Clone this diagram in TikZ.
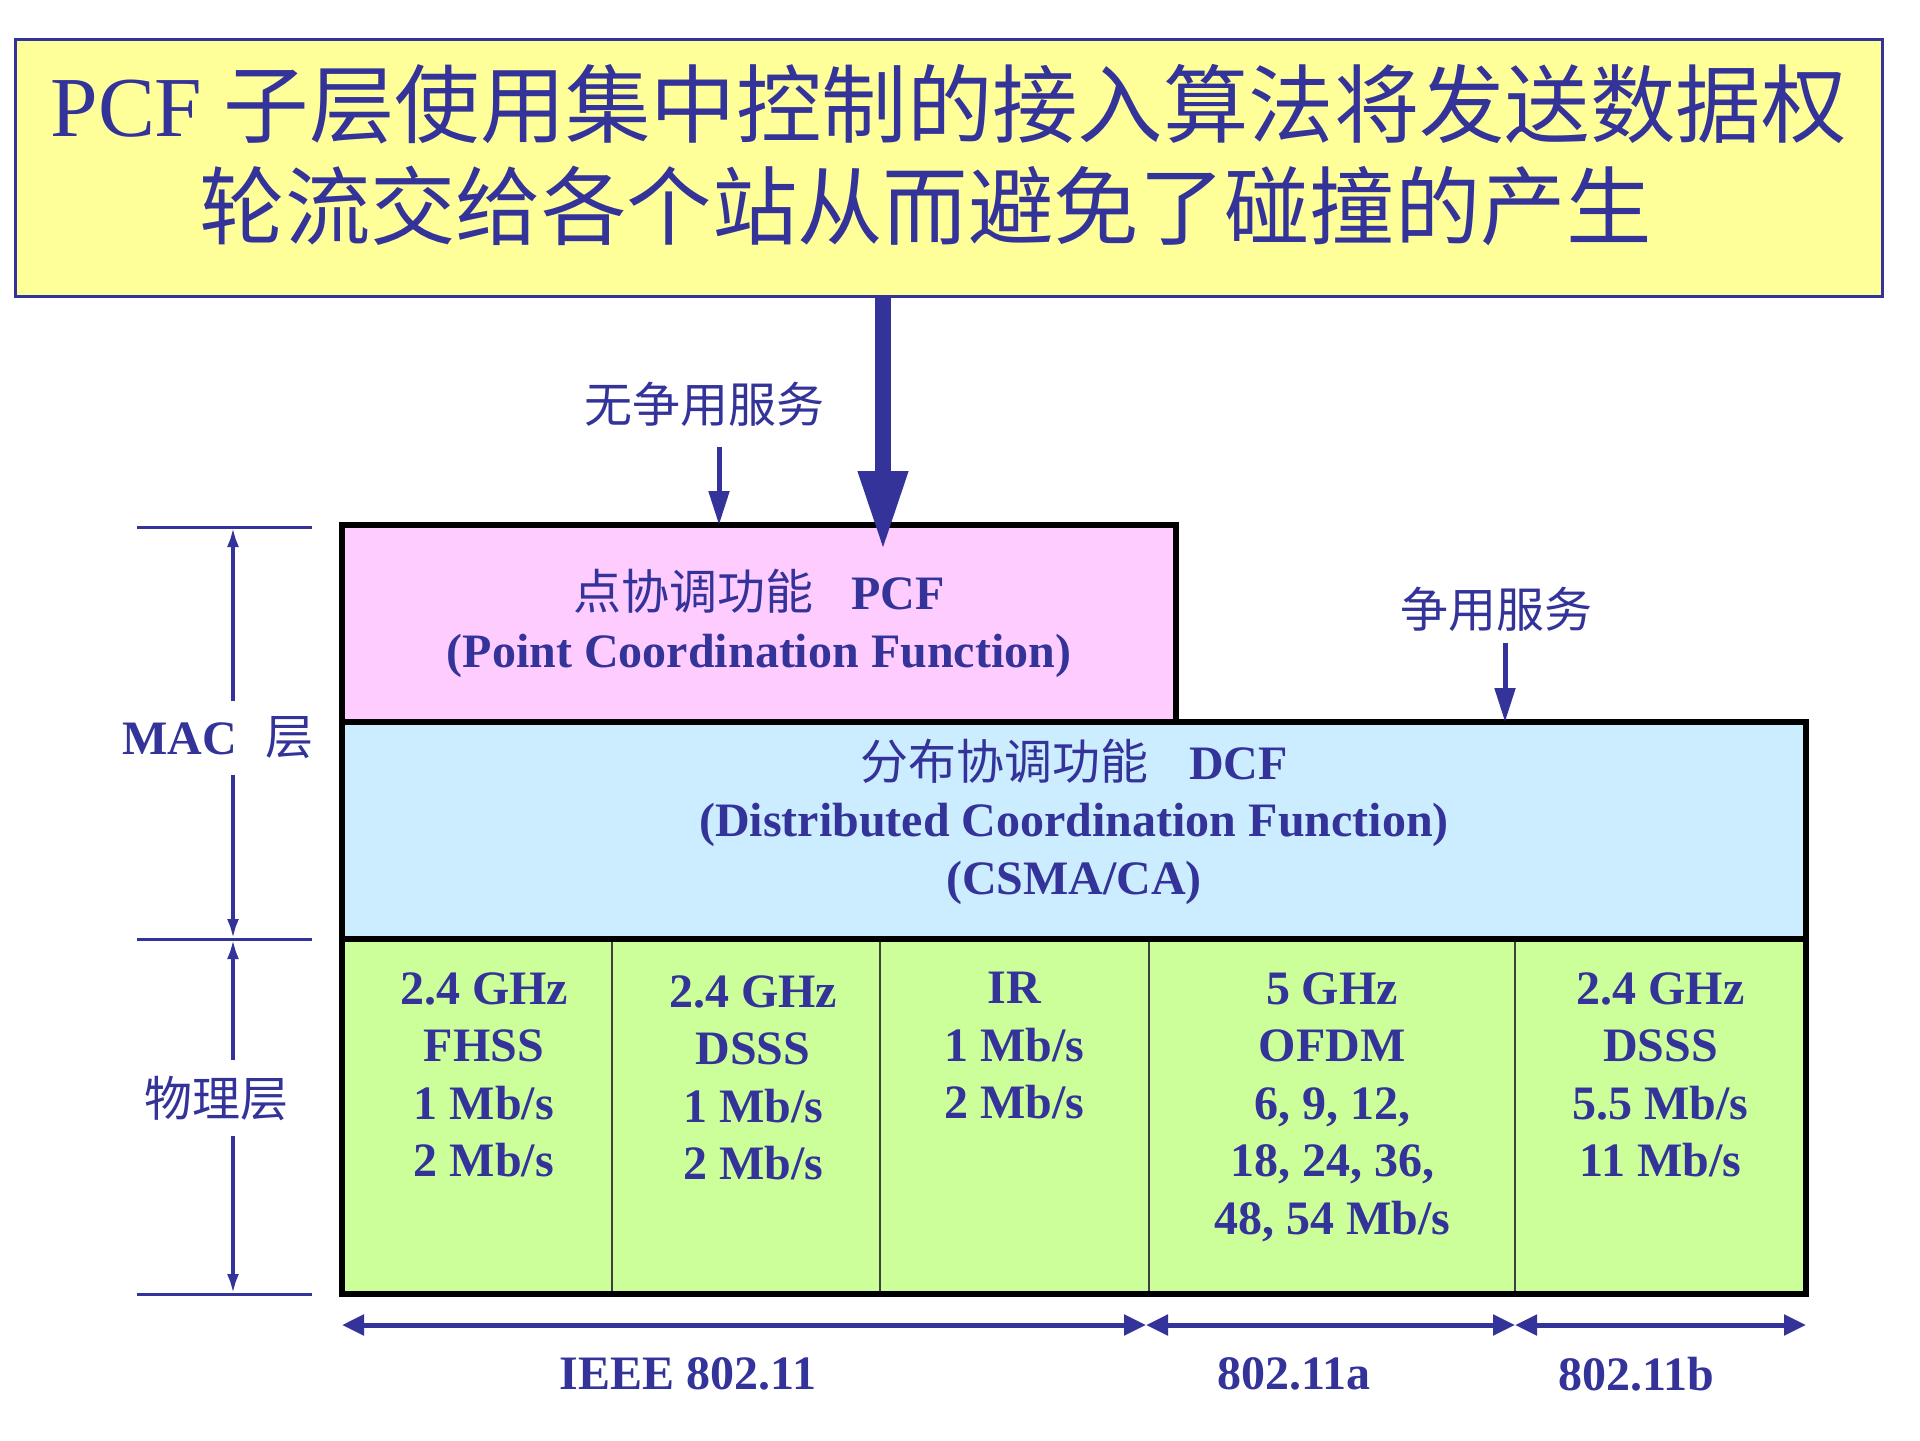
\documentclass[tikz,border=0pt]{standalone}
\usepackage{fontspec}
\setmainfont{Liberation Serif}
\newfontfamily\cjk{Noto Sans CJK SC}
\newcommand\zhtxt[1]{{\cjk\mdseries #1}}
\usepackage{tikz}
\usetikzlibrary{arrows.meta,positioning,calc}
\definecolor{ink}{RGB}{51,51,153}
\definecolor{titlefill}{RGB}{255,255,153}
\definecolor{pcffill}{RGB}{255,204,255}
\definecolor{dcffill}{RGB}{204,236,255}
\definecolor{phyfill}{RGB}{204,255,153}

\begin{document}
\begin{tikzpicture}[
  x=0.5pt, y=-0.5pt,
  font=\fontsize{24}{28.75}\selectfont\bfseries,
  every node/.style={text=ink},
  headbox/.style  = {draw=ink, fill=titlefill, line width=1.5pt, align=center,
                     minimum width=933.5pt, minimum height=128.5pt, inner ysep=0pt,
                     text height=95pt, text depth=24.4pt,
                     font=\fontsize{42.7}{51}\selectfont\mdseries},
  layerbox/.style = {draw=black, line width=3pt, outer sep=0pt, align=center},
  pcfbox/.style   = {layerbox, fill=pcffill, minimum width=417pt, minimum height=98.5pt},
  dcfbox/.style   = {layerbox, fill=dcffill, minimum width=732pt, minimum height=108.5pt,
                     inner ysep=3pt, text height=82pt, text depth=18.5pt},
  cellbox/.style  = {draw=black!75, line width=0.75pt, fill=phyfill, outer sep=0pt,
                     inner sep=0pt, minimum height=177.5pt},
  celltxt/.style  = {align=center, inner sep=4pt, anchor=north},
  ar/.style       = {-{Triangle[length=17pt,width=10pt]}, line width=2.5pt, draw=ink},
  bigar/.style    = {-{Triangle[length=40pt,width=23pt]}, line width=8pt, draw=ink},
  stdspan/.style  = {{Triangle[length=11pt,width=10pt]}-{Triangle[length=11pt,width=10pt]},
                     line width=2.5pt, draw=ink},
  dimar/.style    = {{Latex[length=10pt,width=6pt]}-{Latex[length=10pt,width=6pt]},
                     line width=2pt, draw=ink},
  dimtick/.style  = {line width=1.5pt, draw=ink},
  dimlbl/.style   = {fill=white, inner xsep=2pt, inner ysep=8pt},
]
\useasboundingbox (0,0) rectangle (1920,1440);

% ----------------------------- title --------------------------------------
\node[headbox] (title) at (948.5,167.5)
  {PCF \zhtxt{子层使用集中控制的接入算法将发送数据权}\\
   \zhtxt{轮流交给各个站从而避免了碰撞的产生}\hspace*{23pt}};

% ----------------------------- MAC sublayers ------------------------------
\node[dcfbox] (dcf) at (1074,830.5)
  {\zhtxt{分布协调功能}\hspace{0.85em}DCF\\
   (Distributed Coordination Function)\\
   (CSMA/CA)};
\node[pcfbox, above right=0pt of dcf.north west] (pcf)
  {\zhtxt{点协调功能}\hspace{0.8em}PCF\\
   (Point Coordination Function)};

% ----------------------------- physical layer -----------------------------
\node[cellbox, minimum width=135pt, below right=0pt of dcf.south west] (c1) {};
\node[cellbox, minimum width=134pt, right=0pt of c1] (c2) {};
\node[cellbox, minimum width=134.5pt, right=0pt of c2] (c3) {};
\node[cellbox, minimum width=183pt, right=0pt of c3] (c4) {};
\node[cellbox, minimum width=145.5pt, right=0pt of c4] (c5) {};
\draw[black, line width=3pt] (c1.north west) rectangle (c5.south east);

\node[celltxt, below=12.5pt of c1.north, xshift=3.5pt] (t1) {2.4 GHz\\ FHSS\\ 1 Mb/s\\ 2 Mb/s};
\node[celltxt, below=14pt of c2.north, xshift=3.5pt] (t2) {2.4 GHz\\ DSSS\\ 1 Mb/s\\ 2 Mb/s};
\node[celltxt, below=12.5pt of c3.north] (t3) {IR\\ 1 Mb/s\\ 2 Mb/s};
\node[celltxt, below=12.5pt of c4.north] (t4) {5 GHz\\ OFDM\\ 6, 9, 12,\\ 18, 24, 36,\\ 48, 54 Mb/s};
\node[celltxt, below=12.5pt of c5.north] (t5) {2.4 GHz\\ DSSS\\ 5.5 Mb/s\\ 11 Mb/s};

% ----------------------------- services -----------------------------------
\coordinate (tip) at (883,551);
\draw[bigar] (title.south -| tip) -- (tip);

\node (nocont) at (704,404) {\zhtxt{无争用服务}};
\coordinate (p1) at (719,447);
\draw[ar] (p1) -- (p1 |- pcf.north);

\node (cont) at (1496,609) {\zhtxt{争用服务}};
\coordinate (p2) at (1505,643);
\draw[ar] (p2) -- (p2 |- dcf.north);

% ----------------------------- layer extents ------------------------------
\coordinate (l0) at (137,527);  \coordinate (r0) at (312,527);
\coordinate (l1) at (137,939);  \coordinate (r1) at (312,939);
\coordinate (l2) at (137,1294); \coordinate (r2) at (312,1294);
\draw[dimtick] (l0) -- (r0);
\draw[dimtick] (l1) -- (r1);
\draw[dimtick] (l2) -- (r2);
\coordinate (m0) at (233,527);
\coordinate (m1) at (233,939);
\coordinate (m2) at (233,1294);
\draw[dimar] (m0) -- node[dimlbl, pos=0.512, xshift=-7.5pt] (mac) {MAC\hspace{0.6em}\zhtxt{层}} (m1);
\draw[dimar] (m1) -- node[dimlbl, pos=0.448, xshift=-8.5pt] (phy) {\zhtxt{物理层}} (m2);

% ----------------------------- standards ----------------------------------
\coordinate (b0) at ($(c1.south west)+(0,31)$);
\coordinate (b1) at ($(c4.south west)+(-3,31)$);
\coordinate (b2) at ($(c5.south west)+(0,31)$);
\coordinate (b3) at ($(c5.south east)+(0,31)$);
\draw[stdspan] (b0) -- (b1);
\draw[stdspan] (b1) -- (b2);
\draw[stdspan] (b2) -- (b3);
\node (s1) at (688,1374) {IEEE 802.11};
\node (s2) at (1294,1374) {802.11a};
\node (s3) at (1636,1374) {802.11b};

\end{tikzpicture}
\end{document}
